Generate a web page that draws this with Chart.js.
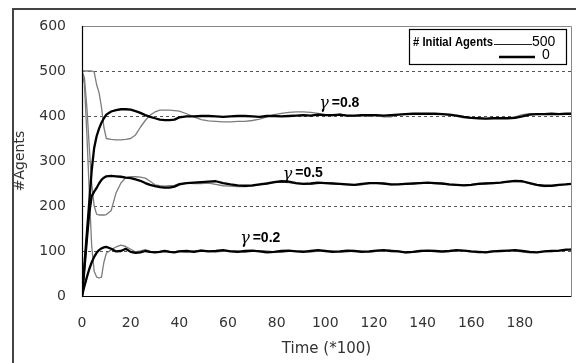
<!DOCTYPE html>
<html>
<head>
<meta charset="utf-8">
<script src="https://cdn.jsdelivr.net/npm/chart.js@4/dist/chart.umd.min.js"></script>
<style>
  html, body { margin: 0; padding: 0; background: #fff; overflow: hidden; }
  #wrap { width: 576px; height: 363px; position: relative; }
</style>
</head>
<body>
<div id="wrap"><canvas id="c" width="576" height="363"></canvas></div>
<script>
// ---- Data ----
const time = [0,1,2,3,4,5,6,7,8,9,10,
  12,14,16,18,20,22,24,26,28,30,32,34,36,38,40,
  43,46,49,52,55,58,61,64,67,70,73,76,79,82,85,88,91,94,97,100,103,106,109,112,115,118,121,124,127,130,133,136,139,142,145,148,151,154,157,160,163,166,169,172,175,178,181,184,187,190,193,196,199,201];

// gamma = 0.8
const g08_init500 = [500,500,500,500,500,498,470,452,420,375,350,
  348,347,347,348,350,358,375,390,402,409,413,413,413,412,411,
  405,398,392,389,388,387,387,388,388,390,393,398,403,406,408,409,409,408,406,403,401,404,400,399,401,399,401,398,398,403,404,404,405,405,405,404,402,399,396,395,395,394,395,395,396,398,403,405,405,404,404,405,405,404];
const g08_init0 = [0,70,140,210,280,329,355,372,385,395,403,
  410,413,415,415,414,411,407,402,398,395,392,391,391,392,397,
  399,399,400,400,399,398,399,400,400,399,398,400,400,399,400,401,402,401,403,402,402,403,401,401,402,402,402,401,402,403,404,405,405,405,405,404,403,401,398,396,395,394,395,395,395,396,399,403,404,404,405,404,405,405];

// gamma = 0.5
const g05_init500 = [500,485,420,330,250,200,182,180,180,180,181,
  190,229,251,263,265,265,264,262,255,247,245,244,245,246,250,
  251,250,250,251,248,245,244,243,243,244,247,250,252,253,252,250,249,248,250,252,251,248,247,246,247,250,252,249,247,248,250,249,251,251,250,249,247,246,247,248,250,251,250,252,253,255,254,250,246,243,244,246,249,248];
const g05_init0 = [0,60,125,185,222,232,240,250,258,263,266,
  267,266,265,263,262,259,256,251,247,244,242,241,241,243,248,
  251,252,253,254,255,251,248,246,245,246,248,250,253,255,254,251,249,250,252,251,250,249,248,247,249,251,251,250,248,248,249,250,251,252,251,250,248,247,246,247,249,250,251,252,254,256,255,251,247,245,245,247,248,249];

// gamma = 0.2
const g02_init500 = [500,470,360,230,110,55,42,40,42,75,95,
  103,109,113,110,104,98,100,103,99,97,99,101,99,98,100,
  98,100,102,100,98,99,101,100,97,99,101,100,98,97,99,101,100,98,99,101,100,97,98,101,100,97,99,100,102,100,96,97,99,101,99,97,99,101,100,98,96,98,100,99,101,100,98,96,97,99,101,100,102,104];
const g02_init0 = [0,22,42,60,75,87,96,102,106,108,109,
  105,99,100,105,98,96,97,100,98,97,98,100,98,97,99,
  100,98,101,99,100,102,99,98,100,101,99,97,98,100,101,99,98,100,102,100,98,99,101,100,98,99,101,102,100,99,97,98,100,101,100,99,100,102,101,99,98,97,99,100,101,102,100,98,97,99,100,101,103,103];

const xTicksShown = [0,20,40,60,80,100,120,140,160,180];
const yTicks = [0,100,200,300,400,500,600];
const curveLabels = ['=0.8','=0.5','=0.2'];
const curveSymbol = 'γ';
const legendTitle = '# Initial Agents';
const legendEntries = ['500','0'];
const xTitle = 'Time (*100)';
const yTitle = '#Agents';

// label anchors in data coordinates (time, agents)
const labelAnchors = [[97.5, 429], [82.5, 272], [65, 129]];

// ---- build datasets ----
function pts(arr) { return time.map((t, i) => ({x: t, y: arr[i]})); }
const GRAY = '#7c7c7c';
function ds(arr, start500) {
  return {
    data: pts(arr),
    borderColor: start500 ? GRAY : '#000',
    borderWidth: start500 ? 1.3 : 2.3,
    pointRadius: 0,
    tension: 0,
    fill: false,
    borderJoinStyle: 'round',
    order: start500 ? 1 : 0
  };
}

const decor = {
  id: 'decor',
  beforeDatasetsDraw(chart) {
    const {ctx, chartArea: a, scales} = chart;
    const y = scales.y;
    ctx.save();
    ctx.strokeStyle = '#555';
    ctx.lineWidth = 1;
    ctx.setLineDash([3, 3]);
    for (const v of [100,200,300,400,500]) {
      const py = Math.round(y.getPixelForValue(v)) + 0.5;
      ctx.beginPath(); ctx.moveTo(a.left, py); ctx.lineTo(a.right, py); ctx.stroke();
    }
    ctx.setLineDash([]);
    ctx.strokeStyle = '#888';
    const top = Math.round(y.getPixelForValue(600)) + 0.5;
    ctx.beginPath(); ctx.moveTo(a.left, top); ctx.lineTo(a.right + 0.5, top); ctx.stroke();
    ctx.beginPath(); ctx.moveTo(Math.round(a.right) + 0.5, top); ctx.lineTo(Math.round(a.right) + 0.5, a.bottom); ctx.stroke();
    ctx.restore();
  },
  afterDatasetsDraw(chart) {
    const {ctx, chartArea: a, scales} = chart;
    const x = scales.x, y = scales.y;
    ctx.save();
    // axes
    ctx.strokeStyle = '#000';
    ctx.lineWidth = 1.2;
    const bx = Math.round(x.getPixelForValue(0)) + 0.5;
    const by = Math.round(y.getPixelForValue(0)) + 0.5;
    ctx.beginPath(); ctx.moveTo(bx, a.top); ctx.lineTo(bx, by); ctx.lineTo(a.right + 0.5, by); ctx.stroke();

    // curve labels
    ctx.fillStyle = '#000';
    ctx.textBaseline = 'middle';
    curveLabels.forEach((lab, i) => {
      const px = x.getPixelForValue(labelAnchors[i][0]);
      const py = y.getPixelForValue(labelAnchors[i][1]);
      ctx.font = 'italic 16px "DejaVu Serif", serif';
      ctx.textAlign = 'left';
      ctx.fillText(curveSymbol, px, py + 1);
      const gw = ctx.measureText(curveSymbol).width;
      ctx.font = 'bold 14px "Liberation Sans", Arial, sans-serif';
      ctx.fillText(lab, px + gw + 3, py);
    });

    // legend box
    const lx = 409.5, ly = 29.5, lw = 157, lh = 35;
    ctx.fillStyle = '#fff';
    ctx.fillRect(lx, ly, lw, lh);
    ctx.strokeStyle = '#000';
    ctx.lineWidth = 1.2;
    ctx.strokeRect(lx, ly, lw, lh);
    ctx.fillStyle = '#000';
    ctx.textBaseline = 'alphabetic';
    ctx.textAlign = 'left';
    ctx.font = 'bold 13.5px "Liberation Sans", Arial, sans-serif';
    ctx.fillText(legendTitle, 413, 45.5, 80);
    ctx.lineWidth = 1;
    ctx.strokeStyle = '#222';
    ctx.beginPath(); ctx.moveTo(494, 44.5); ctx.lineTo(532, 44.5); ctx.stroke();
    ctx.font = '14px "Liberation Sans", Arial, sans-serif';
    ctx.fillText(legendEntries[0], 532, 45.5, 29);
    ctx.lineWidth = 2.5;
    ctx.strokeStyle = '#000';
    ctx.beginPath(); ctx.moveTo(499, 57); ctx.lineTo(535, 57); ctx.stroke();
    ctx.fillText(legendEntries[1], 542, 58.5, 9);
    ctx.restore();
  },
  afterDraw(chart) {
    const ctx = chart.ctx;
    ctx.save();
    ctx.fillStyle = '#444';
    ctx.fillRect(12, 8, 2, 355);
    ctx.fillRect(12, 8, 564, 2);
    ctx.restore();
  }
};

const tickFont = {family: '"DejaVu Sans", sans-serif', size: 14};

new Chart(document.getElementById('c'), {
  type: 'line',
  data: {
    datasets: [
      ds(g08_init500, true), ds(g08_init0, false),
      ds(g05_init500, true), ds(g05_init0, false),
      ds(g02_init500, true), ds(g02_init0, false)
    ]
  },
  options: {
    responsive: false,
    animation: false,
    events: [],
    layout: {padding: {left: 0, top: 26, right: 5, bottom: 0}},
    plugins: {legend: {display: false}, tooltip: {enabled: false}},
    scales: {
      x: {
        type: 'linear',
        min: 0, max: 201,
        grid: {display: false, drawTicks: false},
        border: {display: false},
        afterFit(s) { s.height = 67; },
        afterBuildTicks(s) { s.ticks = xTicksShown.map(v => ({value: v})); },
        ticks: {autoSkip: false, maxRotation: 0, padding: 19, color: '#333', font: tickFont},
        title: {display: true, text: xTitle, color: '#333', font: {family: '"DejaVu Sans", sans-serif', size: 15}, padding: {top: 0, bottom: 5}}
      },
      y: {
        type: 'linear',
        min: 0, max: 600,
        grid: {display: false, drawTicks: false},
        border: {display: false},
        afterFit(s) { s.width = 82; },
        afterBuildTicks(s) { s.ticks = yTicks.map(v => ({value: v})); },
        ticks: {padding: 16, color: '#333', font: tickFont},
        title: {display: true, text: yTitle, color: '#333', font: {family: '"DejaVu Sans", sans-serif', size: 14}, padding: {top: 12, bottom: 0}}
      }
    }
  },
  plugins: [decor]
});
</script>
</body>
</html>
